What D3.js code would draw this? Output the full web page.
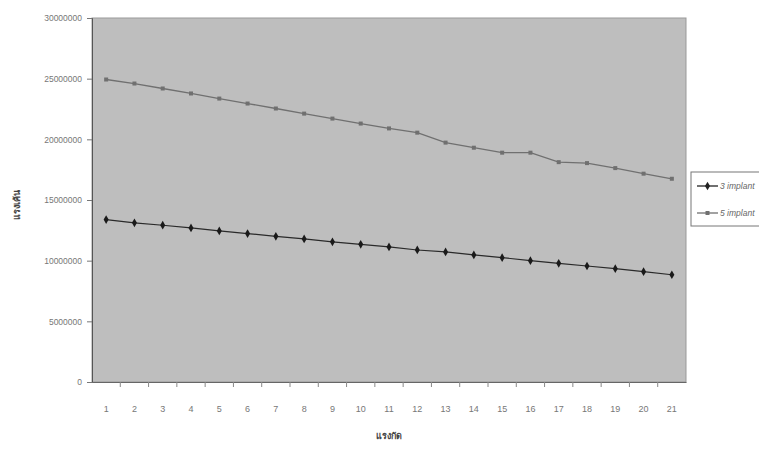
<!DOCTYPE html>
<html>
<head>
<meta charset="utf-8">
<script src="https://cdn.jsdelivr.net/npm/d3@7"></script>
<style>
  body { margin: 0; background: #fff; }
  text { font-family: "Liberation Sans", Arial, sans-serif; }
</style>
</head>
<body>
<script>
var categories = d3.range(1, 22).map(String);
var implant3 = [13390000, 13120000, 12920000, 12700000, 12450000, 12230000, 12010000, 11790000, 11550000, 11350000,
                11130000, 10880000, 10720000, 10470000, 10250000, 10000000, 9780000, 9560000, 9340000, 9090000, 8840000];
var implant5 = [24930000, 24600000, 24190000, 23780000, 23360000, 22950000, 22540000, 22120000, 21710000, 21300000,
                20900000, 20550000, 19730000, 19310000, 18900000, 18900000, 18120000, 18040000, 17630000, 17170000, 16750000];
var yTicks = [0, 5000000, 10000000, 15000000, 20000000, 25000000, 30000000];
var seriesNames = ["3 implant", "5 implant"];

var width = 759, height = 449;
var plotL = 92, plotR = 686, plotT = 18, plotB = 382;

var svg = d3.select("body").append("svg")
    .attr("width", width)
    .attr("height", height);

// plot area
svg.append("rect")
    .attr("x", plotL).attr("y", plotT)
    .attr("width", plotR - plotL).attr("height", plotB - plotT)
    .attr("fill", "#bebebe")
    .attr("stroke", "#999");

var x = d3.scaleBand().domain(categories).range([plotL, plotR]);
var y = d3.scaleLinear().domain([0, 30000000]).range([plotB, plotT]);

// y axis
var yAxis = svg.append("g")
    .attr("transform", "translate(" + plotL + ",0)")
    .call(d3.axisLeft(y).tickValues(yTicks).tickFormat(d3.format("d")).tickSize(5).tickPadding(5));
yAxis.select(".domain").attr("stroke", "#555");
yAxis.selectAll(".tick line").attr("stroke", "#777");
yAxis.selectAll("text").attr("fill", "#777").style("font-size", "8.5px");

// x axis, ticks between categories
var xAxis = svg.append("g")
    .attr("transform", "translate(0," + plotB + ")")
    .call(d3.axisBottom(x).tickSize(0).tickPadding(24));
xAxis.select(".domain").attr("stroke", "#666");
xAxis.selectAll("text").attr("fill", "#777").style("font-size", "9px");
xAxis.selectAll(".sep").data(categories.slice(1))
    .enter().append("line")
    .attr("x1", function (d) { return x(d); })
    .attr("x2", function (d) { return x(d); })
    .attr("y1", 0).attr("y2", 5)
    .attr("stroke", "#888");

var line = d3.line()
    .x(function (d, i) { return x(categories[i]) + x.bandwidth() / 2; })
    .y(function (d) { return y(d); });

// 5 implant (gray, squares)
svg.append("path").datum(implant5)
    .attr("d", line)
    .attr("fill", "none")
    .attr("stroke", "#707070")
    .attr("stroke-width", 1.3);
svg.selectAll(".m5").data(implant5)
    .enter().append("rect")
    .attr("x", function (d, i) { return x(categories[i]) + x.bandwidth() / 2 - 2; })
    .attr("y", function (d) { return y(d) - 2; })
    .attr("width", 4).attr("height", 4)
    .attr("fill", "#707070");

// 3 implant (black, diamonds)
svg.append("path").datum(implant3)
    .attr("d", line)
    .attr("fill", "none")
    .attr("stroke", "#2a2a2a")
    .attr("stroke-width", 1.2);
svg.selectAll(".m3").data(implant3)
    .enter().append("path")
    .attr("transform", function (d, i) {
        return "translate(" + (x(categories[i]) + x.bandwidth() / 2) + "," + y(d) + ")";
    })
    .attr("d", d3.symbol().type(d3.symbolDiamond).size(22))
    .attr("fill", "#1a1a1a");

// axis titles
svg.append("text")
    .attr("x", x("11") + x.bandwidth() / 2).attr("y", 439)
    .attr("text-anchor", "middle")
    .style("font-size", "9px").style("font-weight", "bold")
    .attr("fill", "#444")
    .text("แรงกัด");
svg.append("text")
    .attr("transform", "translate(20,205) rotate(-90)")
    .attr("text-anchor", "middle")
    .style("font-size", "9px").style("font-weight", "bold")
    .attr("fill", "#444")
    .text("แรงเค้น");

// legend
var lg = svg.append("g").attr("transform", "translate(691,172)");
lg.append("rect")
    .attr("width", 80).attr("height", 54)
    .attr("fill", "#fff").attr("stroke", "#777");
var legendRows = [
    { name: seriesNames[0], color: "#222", shape: d3.symbolDiamond, size: 22 },
    { name: seriesNames[1], color: "#707070", shape: d3.symbolSquare, size: 16 }
];
var rows = lg.selectAll(".row").data(legendRows).enter().append("g")
    .attr("transform", function (d, i) { return "translate(0," + (14 + i * 27) + ")"; });
rows.append("line")
    .attr("x1", 6).attr("x2", 27)
    .attr("stroke", function (d) { return d.color; })
    .attr("stroke-width", 1.3);
rows.append("path")
    .attr("transform", "translate(16.5,0)")
    .attr("d", function (d) { return d3.symbol().type(d.shape).size(d.size)(); })
    .attr("fill", function (d) { return d.color; });
rows.append("text")
    .attr("x", 29).attr("y", 3)
    .style("font-size", "8.5px").style("font-style", "italic")
    .attr("fill", "#666")
    .text(function (d) { return d.name; });
</script>
</body>
</html>
